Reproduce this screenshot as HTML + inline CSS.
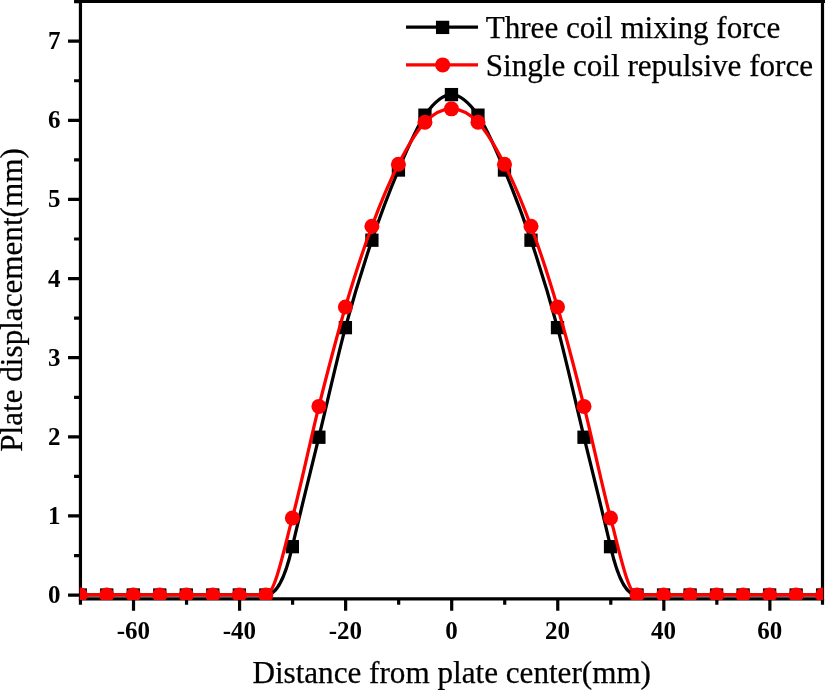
<!DOCTYPE html>
<html><head><meta charset="utf-8"><title>Plate displacement</title>
<style>html,body{margin:0;padding:0;background:#fff}body{width:825px;height:690px;overflow:hidden}</style></head>
<body>
<svg width="825" height="690" viewBox="0 0 825 690" style="display:block">
<rect width="825" height="690" fill="#fff"/>
<defs><clipPath id="c"><rect x="79.8" y="-5" width="743.30" height="605.00"/></clipPath></defs>
<g stroke="#000" stroke-width="3.2" fill="none">
<path d="M80.45,-0.25 V600.5500000000001 M822.5,-0.25 V600.5500000000001 M78.85000000000001,1.35 H825 M78.85000000000001,598.95 H824.1"/>
<path d="M68.05,595.10 H80.45M74.05,555.54 H80.45M68.05,515.97 H80.45M74.05,476.41 H80.45M68.05,436.84 H80.45M74.05,397.28 H80.45M68.05,357.71 H80.45M74.05,318.15 H80.45M68.05,278.58 H80.45M74.05,239.02 H80.45M68.05,199.45 H80.45M74.05,159.89 H80.45M68.05,120.32 H80.45M74.05,80.75 H80.45M68.05,41.19 H80.45M74.05,1.63 H80.45M80.45,598.95 V604.65M133.52,598.95 V610.75M186.55,598.95 V604.65M239.58,598.95 V610.75M292.61,598.95 V604.65M345.64,598.95 V610.75M398.67,598.95 V604.65M451.70,598.95 V610.75M504.73,598.95 V604.65M557.76,598.95 V610.75M610.79,598.95 V604.65M663.82,598.95 V610.75M716.85,598.95 V604.65M769.88,598.95 V610.75M822.50,598.95 V604.65"/>
</g>
<g clip-path="url(#c)"><g transform="translate(0,0.4)">
<path d="M80.24,594.60C89.08,594.60 97.92,594.60 106.75,594.60C115.59,594.60 124.43,594.60 133.27,594.60C142.11,594.60 150.95,594.60 159.78,594.60C168.62,594.60 177.46,594.60 186.30,594.60C195.14,594.60 203.98,594.60 212.81,594.60C221.65,594.60 230.49,594.60 239.33,594.60C248.17,594.60 257.01,594.60 265.85,594.60C274.68,594.60 283.52,584.52 292.36,546.28C301.20,508.03 310.04,473.35 318.88,436.84C327.71,400.33 336.55,360.08 345.39,327.24C354.23,294.41 363.07,266.08 371.90,239.81C380.74,213.54 389.58,190.46 398.42,169.62C407.26,148.78 416.10,127.35 424.94,114.78C433.77,102.21 442.61,94.21 451.45,94.21C460.29,94.21 469.13,102.21 477.96,114.78C486.80,127.35 495.64,148.78 504.48,169.62C513.32,190.46 522.16,213.54 531.00,239.81C539.83,266.08 548.67,294.41 557.51,327.24C566.35,360.08 575.19,400.33 584.02,436.84C592.86,473.35 601.70,508.03 610.54,546.28C619.38,584.52 628.22,594.60 637.05,594.60C645.89,594.60 654.73,594.60 663.57,594.60C672.41,594.60 681.25,594.60 690.09,594.60C698.92,594.60 707.76,594.60 716.60,594.60C725.44,594.60 734.28,594.60 743.12,594.60C751.95,594.60 760.79,594.60 769.63,594.60C778.47,594.60 787.31,594.60 796.14,594.60C804.98,594.60 813.82,594.60 822.66,594.60" stroke="#000" stroke-width="3.25" fill="none" stroke-linejoin="round"/>
<rect x="73.59" y="587.95" width="13.3" height="13.3" fill="#000"/>
<rect x="100.10" y="587.95" width="13.3" height="13.3" fill="#000"/>
<rect x="126.62" y="587.95" width="13.3" height="13.3" fill="#000"/>
<rect x="153.13" y="587.95" width="13.3" height="13.3" fill="#000"/>
<rect x="179.65" y="587.95" width="13.3" height="13.3" fill="#000"/>
<rect x="206.16" y="587.95" width="13.3" height="13.3" fill="#000"/>
<rect x="232.68" y="587.95" width="13.3" height="13.3" fill="#000"/>
<rect x="259.20" y="587.95" width="13.3" height="13.3" fill="#000"/>
<rect x="285.71" y="539.63" width="13.3" height="13.3" fill="#000"/>
<rect x="312.23" y="430.19" width="13.3" height="13.3" fill="#000"/>
<rect x="338.74" y="320.59" width="13.3" height="13.3" fill="#000"/>
<rect x="365.25" y="233.16" width="13.3" height="13.3" fill="#000"/>
<rect x="391.77" y="162.97" width="13.3" height="13.3" fill="#000"/>
<rect x="418.29" y="108.13" width="13.3" height="13.3" fill="#000"/>
<rect x="444.80" y="87.56" width="13.3" height="13.3" fill="#000"/>
<rect x="471.31" y="108.13" width="13.3" height="13.3" fill="#000"/>
<rect x="497.83" y="162.97" width="13.3" height="13.3" fill="#000"/>
<rect x="524.35" y="233.16" width="13.3" height="13.3" fill="#000"/>
<rect x="550.86" y="320.59" width="13.3" height="13.3" fill="#000"/>
<rect x="577.38" y="430.19" width="13.3" height="13.3" fill="#000"/>
<rect x="603.89" y="539.63" width="13.3" height="13.3" fill="#000"/>
<rect x="630.40" y="587.95" width="13.3" height="13.3" fill="#000"/>
<rect x="656.92" y="587.95" width="13.3" height="13.3" fill="#000"/>
<rect x="683.44" y="587.95" width="13.3" height="13.3" fill="#000"/>
<rect x="709.95" y="587.95" width="13.3" height="13.3" fill="#000"/>
<rect x="736.47" y="587.95" width="13.3" height="13.3" fill="#000"/>
<rect x="762.98" y="587.95" width="13.3" height="13.3" fill="#000"/>
<rect x="789.50" y="587.95" width="13.3" height="13.3" fill="#000"/>
<rect x="816.01" y="587.95" width="13.3" height="13.3" fill="#000"/>
<path d="M80.24,594.60C89.08,594.60 97.92,594.60 106.75,594.60C115.59,594.60 124.43,594.60 133.27,594.60C142.11,594.60 150.95,594.60 159.78,594.60C168.62,594.60 177.46,594.60 186.30,594.60C195.14,594.60 203.98,594.60 212.81,594.60C221.65,594.60 230.49,594.60 239.33,594.60C248.17,594.60 257.01,594.60 265.85,594.60C274.68,594.60 283.52,550.52 292.36,517.55C301.20,484.58 310.04,441.13 318.88,405.98C327.71,370.83 336.55,336.70 345.39,306.67C354.23,276.64 363.07,249.61 371.90,225.80C380.74,202.00 389.58,181.16 398.42,163.84C407.26,146.53 416.10,131.13 424.94,121.90C433.77,112.67 442.61,108.45 451.45,108.45C460.29,108.45 469.13,112.67 477.96,121.90C486.80,131.13 495.64,146.53 504.48,163.84C513.32,181.16 522.16,202.00 531.00,225.80C539.83,249.61 548.67,276.64 557.51,306.67C566.35,336.70 575.19,370.83 584.02,405.98C592.86,441.13 601.70,484.58 610.54,517.55C619.38,550.52 628.22,594.60 637.05,594.60C645.89,594.60 654.73,594.60 663.57,594.60C672.41,594.60 681.25,594.60 690.09,594.60C698.92,594.60 707.76,594.60 716.60,594.60C725.44,594.60 734.28,594.60 743.12,594.60C751.95,594.60 760.79,594.60 769.63,594.60C778.47,594.60 787.31,594.60 796.14,594.60C804.98,594.60 813.82,594.60 822.66,594.60" stroke="#fe0000" stroke-width="3.25" fill="none" stroke-linejoin="round"/>
<circle cx="80.24" cy="594.60" r="7.5" fill="#fe0000"/>
<circle cx="106.75" cy="594.60" r="7.5" fill="#fe0000"/>
<circle cx="133.27" cy="594.60" r="7.5" fill="#fe0000"/>
<circle cx="159.78" cy="594.60" r="7.5" fill="#fe0000"/>
<circle cx="186.30" cy="594.60" r="7.5" fill="#fe0000"/>
<circle cx="212.81" cy="594.60" r="7.5" fill="#fe0000"/>
<circle cx="239.33" cy="594.60" r="7.5" fill="#fe0000"/>
<circle cx="265.85" cy="594.60" r="7.5" fill="#fe0000"/>
<circle cx="292.36" cy="517.55" r="7.5" fill="#fe0000"/>
<circle cx="318.88" cy="405.98" r="7.5" fill="#fe0000"/>
<circle cx="345.39" cy="306.67" r="7.5" fill="#fe0000"/>
<circle cx="371.90" cy="225.80" r="7.5" fill="#fe0000"/>
<circle cx="398.42" cy="163.84" r="7.5" fill="#fe0000"/>
<circle cx="424.94" cy="121.90" r="7.5" fill="#fe0000"/>
<circle cx="451.45" cy="108.45" r="7.5" fill="#fe0000"/>
<circle cx="477.96" cy="121.90" r="7.5" fill="#fe0000"/>
<circle cx="504.48" cy="163.84" r="7.5" fill="#fe0000"/>
<circle cx="531.00" cy="225.80" r="7.5" fill="#fe0000"/>
<circle cx="557.51" cy="306.67" r="7.5" fill="#fe0000"/>
<circle cx="584.02" cy="405.98" r="7.5" fill="#fe0000"/>
<circle cx="610.54" cy="517.55" r="7.5" fill="#fe0000"/>
<circle cx="637.05" cy="594.60" r="7.5" fill="#fe0000"/>
<circle cx="663.57" cy="594.60" r="7.5" fill="#fe0000"/>
<circle cx="690.09" cy="594.60" r="7.5" fill="#fe0000"/>
<circle cx="716.60" cy="594.60" r="7.5" fill="#fe0000"/>
<circle cx="743.12" cy="594.60" r="7.5" fill="#fe0000"/>
<circle cx="769.63" cy="594.60" r="7.5" fill="#fe0000"/>
<circle cx="796.14" cy="594.60" r="7.5" fill="#fe0000"/>
<circle cx="822.66" cy="594.60" r="7.5" fill="#fe0000"/>
</g></g>
<g font-family="'Liberation Serif', serif" font-weight="bold" font-size="25" fill="#000">
<text x="60.5" y="603" text-anchor="end">0</text>
<text x="60.5" y="524" text-anchor="end">1</text>
<text x="60.5" y="445" text-anchor="end">2</text>
<text x="60.5" y="366" text-anchor="end">3</text>
<text x="60.5" y="287" text-anchor="end">4</text>
<text x="60.5" y="207" text-anchor="end">5</text>
<text x="60.5" y="128" text-anchor="end">6</text>
<text x="60.5" y="49" text-anchor="end">7</text>
<text x="133.32" y="638.6" text-anchor="middle">-60</text>
<text x="239.38" y="638.6" text-anchor="middle">-40</text>
<text x="345.44" y="638.6" text-anchor="middle">-20</text>
<text x="451.50" y="638.6" text-anchor="middle">0</text>
<text x="557.56" y="638.6" text-anchor="middle">20</text>
<text x="663.62" y="638.6" text-anchor="middle">40</text>
<text x="769.68" y="638.6" text-anchor="middle">60</text>
</g>
<g font-family="'Liberation Serif', serif" font-size="31.15" fill="#000" stroke="#000" stroke-width="0.25">
<text x="451.7" y="683" text-anchor="middle">Distance from plate center(mm)</text>
<text transform="translate(22.1,300) rotate(-90)" text-anchor="middle">Plate displacement(mm)</text>
<text x="485.7" y="38" font-size="31.12">Three coil mixing force</text>
<text x="485.7" y="76" font-size="31.12">Single coil repulsive force</text>
</g>
<path d="M406,27.2 H478" stroke="#000" stroke-width="3.2"/>
<rect x="435.95000000000005" y="20.75" width="13.3" height="13.3" fill="#000"/>
<path d="M406,64.8 H478" stroke="#fe0000" stroke-width="3.2"/>
<circle cx="442.7" cy="64.9" r="7.5" fill="#fe0000"/>
</svg>
</body></html>
